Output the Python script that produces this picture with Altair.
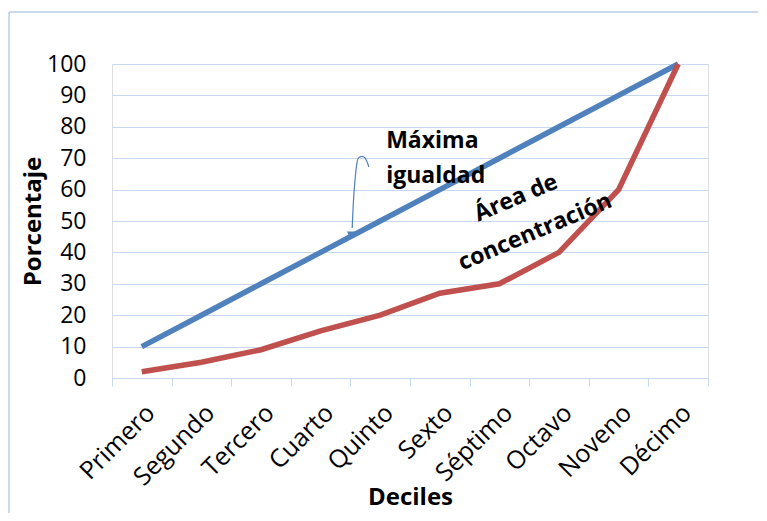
import altair as alt
import pandas as pd

deciles = ["Primero", "Segundo", "Tercero", "Cuarto", "Quinto",
           "Sexto", "Séptimo", "Octavo", "Noveno", "Décimo"]
igualdad = [10, 20, 30, 40, 50, 60, 70, 80, 90, 100]
concentracion = [2, 5, 9, 15, 20, 27, 30, 40, 60, 100]
series = ["Máxima igualdad", "Concentración"]
colors = ["#4f81bd", "#c0504d"]
y_ticks = [0, 10, 20, 30, 40, 50, 60, 70, 80, 90, 100]

# annotations (x in decile units 0..10, y in percent)
label_left = ["Máxima", "igualdad"]
label_left_x = [4.6, 4.6]
label_left_y = [73.2, 62.1]
label_rot = ["Área de", "concentración"]
label_rot_x = [6.78, 7.10]
label_rot_y = [57.3, 46.5]
arrow_x = [4.31, 4.245, 4.16, 4.11, 4.06, 4.03]
arrow_y = [67.2, 70.1, 70.4, 68.5, 58.9, 47.8]
arrow_head_x = [4.01]
arrow_head_y = [45.5]

FONT = "Open Sans"
GRID = "#c6d9f1"
W, H = 596, 314

lines_df = pd.DataFrame({
    "decil": deciles * 2,
    "serie": [series[0]] * len(deciles) + [series[1]] * len(deciles),
    "valor": igualdad + concentracion,
})

lines = alt.Chart(lines_df).mark_line(strokeWidth=5.5).encode(
    x=alt.X("decil:N", sort=deciles,
            scale=alt.Scale(type="band", paddingInner=0, paddingOuter=0),
            axis=alt.Axis(title="Deciles", tickBand="extent", labelAngle=-45,
                          labelFontSize=25, labelFont=FONT, labelColor="black",
                          labelPadding=14, domainColor=GRID, tickColor=GRID,
                          tickSize=8, grid=False,
                          titleFont=FONT, titleFontSize=24, titleFontWeight="bold",
                          titleColor="black", titleY=126, titleBaseline="alphabetic")),
    y=alt.Y("valor:Q", scale=alt.Scale(domain=[0, 100], nice=False),
            axis=alt.Axis(title="Porcentaje", values=y_ticks, domain=False, ticks=False,
                          gridColor=GRID, gridWidth=1, labelOverlap=False,
                          labelFontSize=23, labelFont=FONT, labelColor="black",
                          labelPadding=26,
                          titleFont=FONT, titleFontSize=24, titleFontWeight="bold",
                          titleColor="black", titleX=-79, titleY=157,
                          titleBaseline="middle")),
    color=alt.Color("serie:N", scale=alt.Scale(domain=series, range=colors), legend=None),
    detail="serie:N",
)

xq = alt.Scale(domain=[0, 10], nice=False, zero=False)
yq = alt.Scale(domain=[0, 100], nice=False)

t1 = alt.Chart(pd.DataFrame({"t": label_left, "x": label_left_x, "y": label_left_y})).mark_text(
    font=FONT, fontSize=23, fontWeight="bold", align="left", baseline="alphabetic", color="black"
).encode(x=alt.X("x:Q", scale=xq, axis=None), y=alt.Y("y:Q", scale=yq, axis=None), text="t:N")

t2 = alt.Chart(pd.DataFrame({"t": label_rot, "x": label_rot_x, "y": label_rot_y})).mark_text(
    font=FONT, fontSize=23, fontWeight="bold", align="center", baseline="middle",
    angle=337, color="black"
).encode(x=alt.X("x:Q", scale=xq, axis=None), y=alt.Y("y:Q", scale=yq, axis=None), text="t:N")

arrow = alt.Chart(pd.DataFrame({"x": arrow_x, "y": arrow_y, "o": list(range(len(arrow_x)))})).mark_line(
    color="#4f81bd", strokeWidth=1.2, interpolate="cardinal"
).encode(x=alt.X("x:Q", scale=xq, axis=None), y=alt.Y("y:Q", scale=yq, axis=None), order="o:Q")

head = alt.Chart(pd.DataFrame({"x": arrow_head_x, "y": arrow_head_y})).mark_point(
    shape="triangle-down", filled=True, color="#4f81bd", size=70, opacity=1
).encode(x=alt.X("x:Q", scale=xq, axis=None), y=alt.Y("y:Q", scale=yq, axis=None))

one = pd.DataFrame({"a": [0]})
frame_top = alt.Chart(one).mark_rule(color="#b9cde5", strokeWidth=1.5).encode(
    x=alt.value(-103), x2=alt.value(800), y=alt.value(-52))
frame_left = alt.Chart(one).mark_rule(color="#b9cde5", strokeWidth=1.5).encode(
    x=alt.value(-103), y=alt.value(-52), y2=alt.value(700))

annot = alt.layer(t1, t2, arrow, head)

chart = alt.layer(frame_top, frame_left, lines, annot).resolve_scale(
    x="independent", y="independent"
).properties(
    width=W, height=H,
    autosize=alt.AutoSizeParams(type="none"),
    padding={"left": 104, "top": 56, "right": 50, "bottom": 135},
).configure_view(stroke=None).configure(background="white")

chart.save("out.html", embed_options={"renderer": "svg", "actions": False})
